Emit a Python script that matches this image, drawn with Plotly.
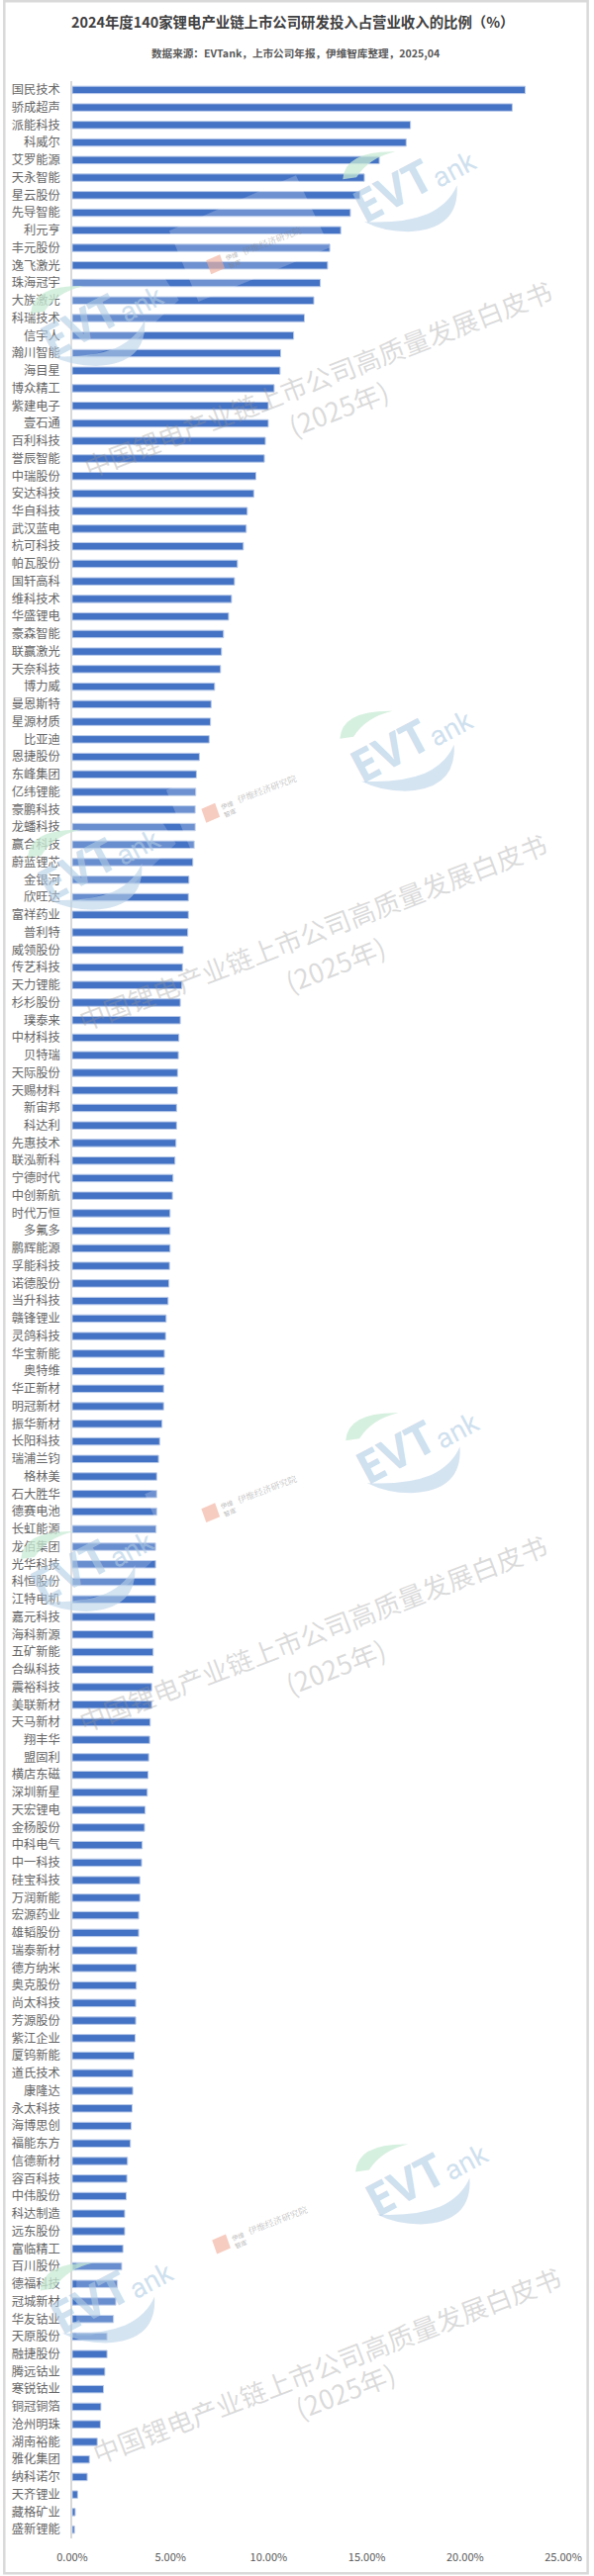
import plotly.graph_objects as go

title_text = "2024年度140家锂电产业链上市公司研发投入占营业收入的比例（%）"
subtitle_text = "数据来源：EVTank，上市公司年报，伊维智库整理，2025,04"
wm_main = "中国锂电产业链上市公司高质量发展白皮书"
wm_year = "(2025年)"

companies = [
"国民技术","骄成超声","派能科技","科威尔","艾罗能源","天永智能","星云股份","先导智能","利元亨",
"丰元股份","逸飞激光","珠海冠宇","大族激光","科瑞技术","信宇人","瀚川智能","海目星","博众精工","紫建电子","壹石通","百利科技",
"誉辰智能","中瑞股份","安达科技","华自科技","武汉蓝电","杭可科技","帕瓦股份","国轩高科","维科技术","华盛锂电","豪森智能","联赢激光","天奈科技",
"博力威","曼恩斯特","星源材质","比亚迪","恩捷股份","东峰集团","亿纬锂能","豪鹏科技","龙蟠科技","赢合科技","蔚蓝锂芯","金银河",
"欣旺达","富祥药业","普利特","威领股份","传艺科技","天力锂能","杉杉股份","璞泰来","中材科技","贝特瑞","天际股份","天赐材料","新宙邦",
"科达利","先惠技术","联泓新科","宁德时代","中创新航","时代万恒","多氟多","鹏辉能源","孚能科技","诺德股份","当升科技","赣锋锂业",
"灵鸽科技","华宝新能","奥特维","华正新材","明冠新材","振华新材","长阳科技","瑞浦兰钧","格林美","石大胜华","德赛电池","长虹能源",
"龙佰集团","光华科技","科恒股份","江特电机","嘉元科技","海科新源","五矿新能","合纵科技","震裕科技","美联新材","天马新材","翔丰华","盟固利",
"横店东磁","深圳新星","天宏锂电","金杨股份","中科电气","中一科技","硅宝科技","万润新能","宏源药业","雄韬股份","瑞泰新材","德方纳米",
"奥克股份","尚太科技","芳源股份","紫江企业","厦钨新能","道氏技术","康隆达","永太科技","海博思创","福能东方","信德新材","容百科技","中伟股份",
"科达制造","远东股份","富临精工","百川股份","德福科技","冠城新材","华友钴业","天原股份","融捷股份","腾远钴业","寒锐钴业",
"铜冠铜箔","沧州明珠","湖南裕能","雅化集团","纳科诺尔","天齐锂业","藏格矿业","盛新锂能"]

rd_ratio = [
23.06,22.40,17.22,17.00,15.63,14.87,14.64,14.16,13.67,
13.11,13.00,12.63,12.30,11.82,11.27,10.61,10.58,10.28,9.98,9.98,9.83,
9.78,9.35,9.24,8.91,8.86,8.71,8.41,8.26,8.11,7.96,7.70,7.60,7.55,
7.25,7.07,7.04,6.97,6.47,6.32,6.29,6.26,6.26,6.21,6.14,5.94,
5.91,5.91,5.88,5.65,5.61,5.58,5.50,5.50,5.43,5.40,5.36,5.36,5.31,
5.31,5.28,5.23,5.13,5.10,4.98,4.98,4.98,4.95,4.92,4.88,4.78,
4.75,4.69,4.69,4.65,4.65,4.57,4.45,4.39,4.30,4.30,4.30,4.27,
4.24,4.24,4.24,4.24,4.21,4.12,4.12,4.12,4.04,4.04,3.97,3.94,3.89,
3.86,3.82,3.71,3.68,3.56,3.53,3.44,3.44,3.38,3.38,3.29,3.26,
3.26,3.23,3.23,3.20,3.15,3.08,3.08,3.05,3.00,2.96,2.81,2.78,2.75,
2.67,2.67,2.58,2.52,2.30,2.22,2.10,1.77,1.77,1.66,1.59,
1.46,1.43,1.27,0.87,0.76,0.27,0.15,0.11]

x_ticks = [0, 5, 10, 15, 20, 25]

W, H = 600, 2604
L, R, T, B = 70.7, 574.0, 81.7, 2567.7
CJK = "Noto Sans CJK SC, Noto Sans, sans-serif"

def px(x): return (x - L) / (R - L)
def py(y): return (B - y) / (B - T)

fig = go.Figure(go.Bar(
    x=rd_ratio, y=companies, orientation="h",
    marker=dict(color="#4472C4", line=dict(color="#b9cbea", width=1)),
    width=0.42, showlegend=False, hoverinfo="x+y",
))

annotations = []
shapes = []

def text_at(x, y, s, size, color, angle=0, family=CJK, bold=False):
    annotations.append(dict(
        x=px(x), y=py(y), xref="paper", yref="paper", text=("<b>%s</b>" % s) if bold else s,
        showarrow=False, textangle=angle, xanchor="center", yanchor="middle",
        font=dict(size=size, color=color, family=family)))

def path_at(cx, cy, cmds, fill):
    parts = []
    for c in cmds:
        op, pts = c[0], c[1:]
        parts.append(op + " ".join("%.5f,%.5f" % (px(cx + a), py(cy + b)) for a, b in pts))
    shapes.append(dict(type="path", xref="paper", yref="paper", layer="above",
                       path=" ".join(parts) + " Z", fillcolor=fill, line=dict(width=0)))

# ---- watermark: white veil bands
for cx, cy in [(420, 184), (417, 750), (395, 1462)]:
    path_at(cx, cy, [("M", (-250, 49)), ("L", (-120, -7)), ("L", (-85, 66)), ("L", (-220, 121))],
            "rgba(255,255,255,0.22)")
for cx, cy in [(100, 320), (97, 870), (90, 1580), (110, 2320)]:
    path_at(cx, cy, [("M", (-35, -37)), ("L", (65, -40)), ("L", (80, -17)), ("L", (35, 25)), ("L", (-20, 42)), ("L", (-35, 42))],
            "rgba(255,255,255,0.20)")

# ---- watermark: EVTank logos
for cx, cy in [(420, 184), (100, 320), (417, 750), (97, 870), (423, 1460), (90, 1580), (433, 2200), (110, 2320)]:
    path_at(cx, cy, [("M", (-72, -3)), ("Q", (-70, -32), (-18, -31)), ("Q", (-45, -25), (-58, -5))],
            "rgba(200,235,212,0.75)")
    path_at(cx, cy, [("M", (45, 3)), ("Q", (48, 48), (-5, 50)), ("Q", (-30, 50), (-50, 40)),
                     ("Q", (-10, 42), (15, 32)), ("Q", (37, 22), (45, 3))],
            "rgba(185,210,232,0.6)")
    text_at(cx - 22, cy + 8, "EVT", 46, "rgba(175,203,228,0.62)", -28, "Open Sans, sans-serif", bold=True)
    text_at(cx + 42, cy - 13, "ank", 28, "rgba(175,203,228,0.62)", -28, "Roboto, sans-serif")

# ---- watermark: institute stamps
for cx, cy in [(217, 267), (212, 822), (212, 1530), (223, 2270)]:
    path_at(cx, cy, [("M", (-9, -4)), ("L", (5, -10)), ("L", (10, 4)), ("L", (-4, 10))], "rgba(240,170,150,0.6)")
    text_at(cx + 19, cy - 5, "伊维<br>智库", 6.5, "rgba(130,130,130,0.55)", -21)
    text_at(cx + 58, cy - 24, "伊维经济研究院", 9, "rgba(130,130,130,0.55)", -21, "Noto Serif CJK SC, " + CJK)

# ---- watermark: white-paper slogan
for (mx, my), (yx, yy) in [(((322, 382)), (343, 412)), ((317, 942), (340, 975)),
                            ((317, 1651), (340, 1685)), ((331, 2392), (350, 2418))]:
    text_at(mx, my, wm_main, 26.5, "rgba(150,150,150,0.34)", -21)
    text_at(yx, yy, wm_year, 27, "rgba(150,150,150,0.34)", -21)

# ---- headings
text_at(296, 21, title_text, 14.4, "#404040", bold=True)
text_at(300, 53, subtitle_text, 10.6, "#595959", bold=True)

# ---- frame
shapes.append(dict(type="rect", xref="paper", yref="paper", layer="above",
                   x0=px(1), x1=px(599), y0=py(1), y1=py(2603),
                   line=dict(color="#d9d9d9", width=2.5), fillcolor="rgba(0,0,0,0)"))

fig.update_layout(
    width=W, height=H, autosize=False,
    margin=dict(l=L, r=W - R, t=T, b=H - B, pad=0),
    paper_bgcolor="white", plot_bgcolor="white",
    annotations=annotations, shapes=shapes,
    font=dict(family=CJK, color="#595959"),
    xaxis=dict(range=[0, 25], tickmode="array", tickvals=x_ticks,
               ticktext=["%.2f%%" % v for v in x_ticks],
               showgrid=False, zeroline=False, showline=False,
               ticks="outside", ticklen=9, tickcolor="rgba(0,0,0,0)",
               tickfont=dict(size=11, color="#595959", family=CJK)),
    yaxis=dict(type="category", categoryorder="array", categoryarray=companies,
               autorange="reversed", tickmode="linear", dtick=1,
               showgrid=False, zeroline=False, showline=True,
               linecolor="#d9d9d9", linewidth=1.5,
               ticks="outside", ticklen=8, tickcolor="rgba(0,0,0,0)",
               tickfont=dict(size=12.25, color="#666666", family=CJK)),
)

fig.write_html("out.html", config={"displayModeBar": False},
               post_script="document.body.style.margin='0';document.body.style.overflow='hidden';")
